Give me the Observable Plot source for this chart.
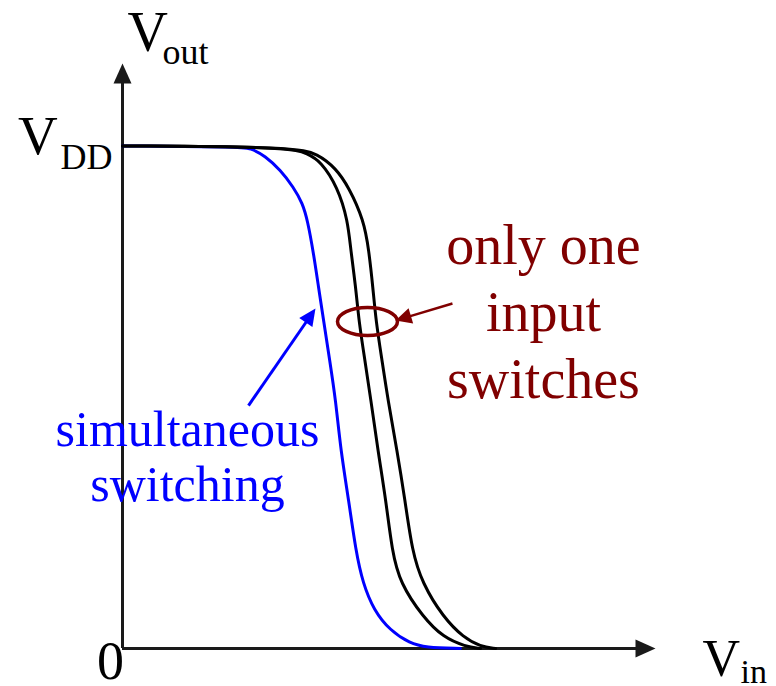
<!DOCTYPE html>
<html>
<head>
<meta charset="utf-8">
<script src="https://cdn.jsdelivr.net/npm/d3@7"></script>
<script src="https://cdn.jsdelivr.net/npm/@observablehq/plot@0.6"></script>
<style>
html, body { margin: 0; padding: 0; background: #fff; }
#chart svg { display: block; }
#chart svg text { font-family: "Liberation Serif", "Times New Roman", Tinos, "DejaVu Serif", serif !important; }
</style>
</head>
<body>
<div id="chart"></div>
<script>
// ---- data (volts) ----
const VDD = 5;
const vinBlue  = [0, 1.17, 1.27, 1.42, 1.57, 1.70, 1.79, 1.84, 1.90, 1.95, 2.00, 2.06, 2.12, 2.17, 2.25, 2.32, 2.39, 2.50, 2.66, 2.86, 3.01, 3.36];
const voutBlue = [5, 4.99, 4.98, 4.90, 4.76, 4.59, 4.43, 4.26, 3.93, 3.59, 3.26, 2.87, 2.47, 1.97, 1.47, 0.97, 0.65, 0.38, 0.18, 0.05, 0.01, 0];
const vinBlackA  = [0, 1.67, 1.84, 1.97, 2.14, 2.24, 2.27, 2.32, 2.35, 2.41, 2.47, 2.54, 2.62, 2.68, 2.76, 2.99, 3.19, 3.41, 3.56];
const voutBlackA = [5, 4.99, 4.92, 4.85, 4.59, 4.26, 3.96, 3.59, 3.26, 2.87, 2.47, 1.97, 1.47, 0.97, 0.65, 0.31, 0.11, 0.02, 0];
const vinBlackB  = [0, 1.72, 1.94, 2.12, 2.25, 2.40, 2.45, 2.49, 2.52, 2.58, 2.64, 2.73, 2.81, 2.88, 2.98, 3.19, 3.39, 3.56, 3.71];
const voutBlackB = [5, 4.99, 4.92, 4.78, 4.59, 4.26, 3.96, 3.59, 3.26, 2.87, 2.47, 1.97, 1.47, 0.97, 0.65, 0.31, 0.11, 0.02, 0];
const labelOneInput = "only one\ninput\nswitches";
const labelSimul = "simultaneous\nswitching";
const axisLabels = {vout: ["V", "out"], vdd: ["V", "DD"], zero: "0", vin: ["V", "in"]};

// ---- build tables ----
const zip = (xs, ys) => xs.map((x, i) => ({vin: x, vout: ys[i]}));
const blue = zip(vinBlue, voutBlue);
const blackA = zip(vinBlackA, voutBlackA);
const blackB = zip(vinBlackB, voutBlackB);

// ---- layout ----
const W = 776, H = 686;
const mL = 122, mR = 121, mT = 63, mB = 38;
const xMax = 5.3, yMax = 5.82;
const kx = (W - mL - mR) / xMax, ky = (H - mT - mB) / yMax;

const RED = "#800000", BLUE = "#0000ff", AXIS = "#1a1a1a";
const serif = "'Liberation Serif', 'Times New Roman', Tinos, 'DejaVu Serif', serif";

// filled arrowhead symbol with its tip at the origin
function headSymbol(angle, len, halfW) {
  const c = Math.cos(angle), s = Math.sin(angle);
  return {
    draw(ctx) {
      const bx = -len * c, by = -len * s;
      ctx.moveTo(0, 0);
      ctx.lineTo(bx - halfW * s, by + halfW * c);
      ctx.lineTo(bx + halfW * s, by - halfW * c);
      ctx.closePath();
    }
  };
}
function ellipseSymbol(a, b) {
  const k = 0.5523;
  return {
    draw(ctx) {
      ctx.moveTo(a, 0);
      ctx.bezierCurveTo(a, b * k, a * k, b, 0, b);
      ctx.bezierCurveTo(-a * k, b, -a, b * k, -a, 0);
      ctx.bezierCurveTo(-a, -b * k, -a * k, -b, 0, -b);
      ctx.bezierCurveTo(a * k, -b, a, -b * k, a, 0);
      ctx.closePath();
    }
  };
}
// annotation arrow: link + filled head
function annotArrow(from, to, color, width, len, halfW) {
  const dxp = (to[0] - from[0]) * kx, dyp = -(to[1] - from[1]) * ky;
  const ang = Math.atan2(dyp, dxp);
  const L = Math.hypot(dxp, dyp);
  const f = (L - len * 0.8) / L;
  const end = [from[0] + (to[0] - from[0]) * f, from[1] + (to[1] - from[1]) * f];
  return [
    Plot.link([0], {x1: from[0], y1: from[1], x2: end[0], y2: end[1], stroke: color, strokeWidth: width}),
    Plot.dot([0], {x: to[0], y: to[1], symbol: headSymbol(ang, len, halfW), r: 5, fill: color, stroke: "none"})
  ];
}

const txt = (label, opts) => Plot.text([label], {text: d => d, fontFamily: serif, lineAnchor: "bottom", fill: "#000", ...opts});

const chart = Plot.plot({
  width: W, height: H,
  marginLeft: mL, marginRight: mR, marginTop: mT, marginBottom: mB,
  x: {domain: [0, xMax], axis: null},
  y: {domain: [0, yMax], axis: null},
  style: {background: "#fff", fontFamily: serif},
  marks: [
    // axes
    Plot.ruleX([0], {y1: 0, y2: yMax - 18 / ky, stroke: AXIS, strokeWidth: 3}),
    Plot.ruleY([0], {x1: 0, x2: xMax - 18 / kx, stroke: AXIS, strokeWidth: 3}),
    Plot.dot([0], {x: 0, y: yMax, symbol: headSymbol(-Math.PI / 2, 20, 9), r: 5, fill: AXIS, stroke: "none"}),
    Plot.dot([0], {x: xMax, y: 0, symbol: headSymbol(0, 20, 9), r: 5, fill: AXIS, stroke: "none"}),
    // curves
    Plot.line(blue, {x: "vin", y: "vout", stroke: BLUE, strokeWidth: 3, curve: "basis"}),
    Plot.line(blackA, {x: "vin", y: "vout", stroke: "#000", strokeWidth: 3, curve: "basis"}),
    Plot.line(blackB, {x: "vin", y: "vout", stroke: "#000", strokeWidth: 3, curve: "basis"}),
    // ellipse around the black curves
    Plot.dot([0], {x: 2.436, y: 3.253, symbol: ellipseSymbol(30, 14), r: 5, fill: "none", stroke: RED, strokeWidth: 3.5}),
    ...annotArrow([3.281, 3.432], [2.715, 3.263], RED, 2.5, 16, 8),
    ...annotArrow([1.253, 2.417], [1.919, 3.382], BLUE, 3, 17, 8),
    // annotation text
    txt(labelOneInput, {x: 4.186, y: 2.497, fill: RED, fontSize: 56, lineHeight: 1.19, textAnchor: "middle"}),
    txt(labelSimul, {x: 0.646, y: 1.472, fill: BLUE, fontSize: 50, lineHeight: 1.1, textAnchor: "middle"}),
    // axis labels
    txt(axisLabels.vout[0], {x: 0.05, y: 5.949, fontSize: 56, textAnchor: "start"}),
    txt(axisLabels.vout[1], {x: 0.398, y: 5.820, fontSize: 36, textAnchor: "start"}),
    txt(axisLabels.vdd[0], {x: -1.04, y: 4.924, fontSize: 55, textAnchor: "start"}),
    txt(axisLabels.vdd[1], {x: -0.616, y: 4.775, fontSize: 36, textAnchor: "start"}),
    txt(axisLabels.zero, {x: -0.119, y: -0.30, fontSize: 54, textAnchor: "middle"}),
    txt(axisLabels.vin[0], {x: 5.767, y: -0.269, fontSize: 52, textAnchor: "start"}),
    txt(axisLabels.vin[1], {x: 6.145, y: -0.340, fontSize: 34, textAnchor: "start"})
  ]
});
document.getElementById("chart").appendChild(chart);
</script>
</body>
</html>
